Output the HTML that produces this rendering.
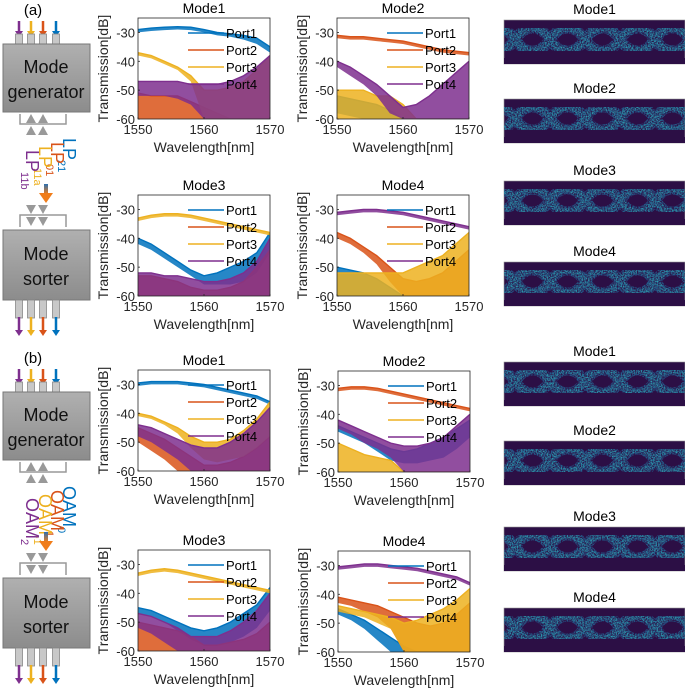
<!DOCTYPE html>
<html><head><meta charset="utf-8"><style>
html,body{margin:0;padding:0;background:#fff;}
svg{display:block;font-family:"Liberation Sans",sans-serif;}
</style></head><body>
<svg id="fig" width="685" height="694" viewBox="0 0 685 694" xmlns="http://www.w3.org/2000/svg">
<defs>
<linearGradient id="boxg" x1="0" y1="0" x2="0" y2="1"><stop offset="0" stop-color="#b0b0b0"/><stop offset="1" stop-color="#8c8c8c"/></linearGradient>
<linearGradient id="arrg" x1="0" y1="0" x2="0" y2="1"><stop offset="0" stop-color="#2a6fb0"/><stop offset="1" stop-color="#f07d1a"/></linearGradient>
<filter id="speck" x="0" y="0" width="1" height="1">
<feTurbulence type="fractalNoise" baseFrequency="0.8" numOctaves="1" seed="3" result="n"/>
<feColorMatrix in="n" type="matrix" values="0 0 0 0 0  0 0 0 0 0  0 0 0 0 0  0 0 0 3 -1.3" result="a"/>
<feComposite in="SourceGraphic" in2="a" operator="in"/>
</filter>
<filter id="speck2" x="0" y="0" width="1" height="1">
<feTurbulence type="fractalNoise" baseFrequency="0.7" numOctaves="1" seed="9" result="n"/>
<feColorMatrix in="n" type="matrix" values="0 0 0 0 0  0 0 0 0 0  0 0 0 0 0  0 0 0 3 -1.0" result="a"/>
<feComposite in="SourceGraphic" in2="a" operator="in"/>
</filter>
</defs>
<g id="left"></g>
<g id="charts"></g>
<g id="eyes"></g>
</svg>
<script>
const wavelengths = [1550,1552,1554,1556,1558,1560,1562,1564,1566,1568,1570];
const yTicks = [-30,-40,-50,-60];
const xTicks = [1550,1560,1570];
const portNames = ["Port1","Port2","Port3","Port4"];
const modeTitles = ["Mode1","Mode2","Mode3","Mode4"];
// (a) Mode1
const a1p1Hi=[-29,-28.5,-28.2,-28,-28.2,-29,-30,-30.5,-31,-32,-35];
const a1p1Lo=[-30,-29.5,-29.2,-29,-29.2,-30,-31,-31.5,-32.5,-34,-37];
const a1p2Hi=[-51,-52,-52,-52,-54,-56,-58,-60,-60,-60,-60];
const a1p2Lo=[-60,-60,-60,-60,-60,-60,-60,-60,-60,-60,-60];
const a1p3Hi=[-37,-38,-40,-42,-45,-50,-50,-49,-47,-43,-38];
const a1p3Lo=[-38,-39,-41,-43,-47,-60,-60,-60,-60,-60,-60];
const a1p4Hi=[-47,-47,-47,-47,-48,-48,-48,-47,-45,-42,-38];
const a1p4Lo=[-52,-52,-52,-53,-55,-60,-60,-60,-60,-60,-60];
// (a) Mode2
const a2p1Hi=[-52,-53,-54,-55,-57,-60,-60,-60,-60,-60,-60];
const a2p1Lo=[-58,-59,-60,-60,-60,-60,-60,-60,-60,-60,-60];
const a2p2Hi=[-31,-31.5,-31.5,-32,-32.5,-33,-34,-35,-36,-36.5,-37];
const a2p2Lo=[-32,-32.5,-32.5,-33,-33.5,-34,-35,-36,-37,-37.5,-38];
const a2p3Hi=[-50,-50,-50,-52,-52,-55,-60,-60,-60,-60,-60];
const a2p3Lo=[-60,-60,-60,-60,-60,-60,-60,-60,-60,-60,-60];
const a2p4Hi=[-40,-42,-45,-48,-52,-56,-55,-52,-48,-44,-40];
const a2p4Lo=[-42,-45,-48,-52,-58,-60,-60,-60,-60,-60,-60];
// (a) Mode3
const a3p1Hi=[-40,-42,-45,-48,-51,-53,-52,-50,-48,-45,-38];
const a3p1Lo=[-42,-44,-47,-50,-53,-56,-56,-56,-55,-52,-45];
const a3p2Hi=[-53,-53,-54,-55,-57,-58,-58,-57,-55,-50,-44];
const a3p2Lo=[-60,-60,-60,-60,-60,-60,-60,-60,-60,-60,-60];
const a3p3Hi=[-33,-32,-31.5,-31.5,-32,-33,-34,-35,-36,-37,-38];
const a3p3Lo=[-34,-33,-32.5,-32.5,-33,-34,-35,-36,-37,-38,-39];
const a3p4Hi=[-52,-52,-53,-53,-54,-55,-55,-54,-52,-48,-40];
const a3p4Lo=[-60,-60,-60,-60,-60,-60,-60,-60,-60,-60,-60];
// (a) Mode4
const a4p1Hi=[-50,-51,-52,-54,-57,-60,-60,-60,-60,-60,-60];
const a4p1Lo=[-60,-60,-60,-60,-60,-60,-60,-60,-60,-60,-60];
const a4p2Hi=[-38,-40,-43,-46,-50,-54,-55,-54,-52,-48,-44];
const a4p2Lo=[-40,-42,-45,-49,-55,-60,-60,-60,-60,-60,-60];
const a4p3Hi=[-52,-52,-52,-52,-52,-52,-50,-48,-46,-42,-38];
const a4p3Lo=[-60,-60,-60,-60,-60,-60,-60,-60,-60,-60,-60];
const a4p4Hi=[-31,-30.5,-30,-30,-30.5,-31,-32,-33,-34,-35,-36];
const a4p4Lo=[-32,-31.5,-31,-31,-31.5,-32,-33,-34,-35,-36,-37];
// (b) Mode1
const b1p1Hi=[-29.5,-29,-29,-29,-29.5,-30,-31,-32,-33,-34,-36];
const b1p1Lo=[-30.5,-30,-30,-30,-30.5,-31,-32,-33,-34,-35,-37];
const b1p2Hi=[-45,-47,-49,-52,-55,-58,-58,-57,-55,-52,-48];
const b1p2Lo=[-50,-53,-56,-60,-60,-60,-60,-60,-60,-60,-60];
const b1p3Hi=[-40,-41,-43,-45,-48,-50,-50,-49,-46,-42,-36];
const b1p3Lo=[-41,-42,-44,-47,-52,-56,-57,-56,-55,-52,-48];
const b1p4Hi=[-44,-45,-47,-49,-51,-52,-52,-50,-47,-43,-38];
const b1p4Lo=[-48,-50,-53,-56,-60,-60,-60,-60,-60,-60,-60];
// (b) Mode2
const b2p1Hi=[-44,-46,-48,-50,-52,-53,-52,-50,-48,-45,-42];
const b2p1Lo=[-46,-48,-50,-53,-56,-57,-57,-56,-55,-52,-48];
const b2p2Hi=[-31,-30.5,-30.5,-31,-32,-33,-34,-35,-36,-37,-38];
const b2p2Lo=[-32,-31.5,-31.5,-32,-33,-34,-35,-36,-37,-38,-39];
const b2p3Hi=[-50,-52,-54,-55,-56,-60,-60,-60,-60,-60,-60];
const b2p3Lo=[-60,-60,-60,-60,-60,-60,-60,-60,-60,-60,-60];
const b2p4Hi=[-42,-44,-46,-48,-50,-51,-51,-50,-48,-44,-40];
const b2p4Lo=[-45,-47,-50,-52,-55,-60,-60,-60,-60,-60,-60];
// (b) Mode3
const b3p1Hi=[-45,-46,-48,-50,-52,-53,-52,-50,-47,-44,-38];
const b3p1Lo=[-47,-48,-50,-53,-56,-58,-58,-57,-55,-52,-46];
const b3p2Hi=[-50,-51,-52,-53,-55,-58,-58,-57,-56,-54,-50];
const b3p2Lo=[-60,-60,-60,-60,-60,-60,-60,-60,-60,-60,-60];
const b3p3Hi=[-33,-32,-31.5,-32,-33,-34,-35,-36,-37,-38,-39];
const b3p3Lo=[-34,-33,-32.5,-33,-34,-35,-36,-37,-38,-39,-40];
const b3p4Hi=[-47,-48,-50,-52,-55,-55,-55,-53,-50,-46,-40];
const b3p4Lo=[-52,-54,-57,-60,-60,-60,-60,-60,-60,-60,-60];
// (b) Mode4
const b4p1Hi=[-45,-47,-49,-52,-55,-58,-60,-60,-60,-60,-60];
const b4p1Lo=[-47,-49,-52,-56,-60,-60,-60,-60,-60,-60,-60];
const b4p2Hi=[-41,-42,-43,-44,-46,-48,-50,-51,-50,-47,-43];
const b4p2Lo=[-43,-44,-46,-48,-52,-60,-60,-60,-60,-60,-60];
const b4p3Hi=[-44,-45,-46,-47,-48,-50,-49,-47,-45,-42,-38];
const b4p3Lo=[-46,-47,-48,-50,-52,-60,-60,-60,-60,-60,-60];
const b4p4Hi=[-30.5,-30,-29.5,-29.5,-30,-30.5,-31,-32,-33,-34,-36];
const b4p4Lo=[-31.5,-31,-30.5,-30.5,-31,-31.5,-32,-33,-34,-35,-37];

const portColors=["#0072BD","#D95319","#EDB120","#7E2F8E"];
const NS="http://www.w3.org/2000/svg";
function mk(tag,attrs,parent){const e=document.createElementNS(NS,tag);for(const k in attrs)e.setAttribute(k,attrs[k]);if(parent)parent.appendChild(e);return e;}

const chartDefs=[
 {id:"a1",x:138,y:18,t:0,d:[[a1p1Hi,a1p1Lo],[a1p2Hi,a1p2Lo],[a1p3Hi,a1p3Lo],[a1p4Hi,a1p4Lo]]},
 {id:"a2",x:337,y:18,t:1,d:[[a2p1Hi,a2p1Lo],[a2p2Hi,a2p2Lo],[a2p3Hi,a2p3Lo],[a2p4Hi,a2p4Lo]]},
 {id:"a3",x:138,y:195,t:2,d:[[a3p1Hi,a3p1Lo],[a3p2Hi,a3p2Lo],[a3p3Hi,a3p3Lo],[a3p4Hi,a3p4Lo]]},
 {id:"a4",x:337,y:195,t:3,d:[[a4p1Hi,a4p1Lo],[a4p2Hi,a4p2Lo],[a4p3Hi,a4p3Lo],[a4p4Hi,a4p4Lo]]},
 {id:"b1",x:138,y:370,t:0,d:[[b1p1Hi,b1p1Lo],[b1p2Hi,b1p2Lo],[b1p3Hi,b1p3Lo],[b1p4Hi,b1p4Lo]]},
 {id:"b2",x:338,y:371,t:1,d:[[b2p1Hi,b2p1Lo],[b2p2Hi,b2p2Lo],[b2p3Hi,b2p3Lo],[b2p4Hi,b2p4Lo]]},
 {id:"b3",x:138,y:550,t:2,d:[[b3p1Hi,b3p1Lo],[b3p2Hi,b3p2Lo],[b3p3Hi,b3p3Lo],[b3p4Hi,b3p4Lo]]},
 {id:"b4",x:338,y:551,t:3,d:[[b4p1Hi,b4p1Lo],[b4p2Hi,b4p2Lo],[b4p3Hi,b4p3Lo],[b4p4Hi,b4p4Lo]]}
];
const W=132,H=101;
const chartsG=document.getElementById("charts");
chartDefs.forEach(c=>{
 const g=mk("g",{},chartsG);
 
 
 const px=w=>c.x+(w-1550)/20*W;
 const py=v=>c.y+(-25-v)/35*H;
 const clip=mk("clipPath",{id:"clip"+c.id},g);
 mk("rect",{x:c.x,y:c.y,width:W,height:H},clip);
 mk("rect",{x:c.x,y:c.y,width:W,height:H,fill:"#fff"},g);
 const sg=mk("g",{"clip-path":"url(#clip"+c.id+")"},g);
 c.d.forEach((s,i)=>{
  const hi=s[0],lo=s[1];
  let pts=wavelengths.map((w,k)=>px(w)+","+py(hi[k]));
  let ptsLo=wavelengths.map((w,k)=>px(w)+","+py(lo[k])).reverse();
  const poly=mk("polygon",{points:pts.concat(ptsLo).join(" "),fill:portColors[i],"fill-opacity":"0.85"},sg);
  
  
  const line=mk("polyline",{points:pts.join(" "),fill:"none",stroke:portColors[i],"stroke-width":"1.4"},sg);
  
  
 });
 const frame=mk("rect",{x:c.x,y:c.y,width:W,height:H,fill:"none",stroke:"#262626","stroke-width":"0.8"},g);
 
 
 yTicks.forEach(v=>{
  mk("line",{x1:c.x,x2:c.x+2,y1:py(v),y2:py(v),stroke:"#262626","stroke-width":"0.8"},g);
  const t=mk("text",{x:c.x-3,y:py(v)+5,"text-anchor":"end","font-size":"13",fill:"#262626"},g);
  t.textContent=v;
  
  
 });
 xTicks.forEach(v=>{
  mk("line",{x1:px(v),x2:px(v),y1:c.y+H,y2:c.y+H-2,stroke:"#262626","stroke-width":"0.8"},g);
  const t=mk("text",{x:px(v),y:c.y+H+15,"text-anchor":"middle","font-size":"13",fill:"#262626"},g);
  t.textContent=v;
  
  
 });
 const xt=mk("text",{x:c.x+W/2,y:c.y+H+33,"text-anchor":"middle","font-size":"14",fill:"#262626"},g);
 xt.textContent="Wavelength[nm]";
 
 
 const yt=mk("text",{transform:"translate("+(c.x-30)+","+(c.y+H/2)+") rotate(-90)","text-anchor":"middle","font-size":"14",fill:"#262626"},g);
 yt.textContent="Transmission[dB]";
 
 
 const tt=mk("text",{x:c.x+W/2,y:c.y-5,"text-anchor":"middle","font-size":"14",fill:"#000"},g);
 tt.textContent=modeTitles[c.t];
 
 
 portNames.forEach((n,i)=>{
  const ly=c.y+15+17*i;
  const ll=mk("line",{x1:c.x+50,x2:c.x+86,y1:ly,y2:ly,stroke:portColors[i],"stroke-width":"1.4"},g);
  
  
  const lt=mk("text",{x:c.x+88,y:ly+5,"font-size":"13",fill:"#000"},g);
  lt.textContent=n;
  
  
 });
});

// eye diagrams
const eyeG=document.getElementById("eyes");
const eyeBoxes=[[20,0],[99,1],[181,2],[262,3],[362,0],[441,1],[527,2],[608,3]];
eyeBoxes.forEach(b=>{
 const y0=b[0],x0=504,w=181,h=44;
 const g=mk("g",{},eyeG);
 
 
 const t=mk("text",{x:x0+w/2,y:y0-6,"text-anchor":"middle","font-size":"14",fill:"#000"},g);
 t.textContent=modeTitles[b[1]];
 
 
 mk("rect",{x:x0,y:y0,width:w,height:h,fill:"#2c0f45",stroke:"#999","stroke-width":"0.6"},g);
 const T=y0+8,B=y0+31,p=35,hh=p/2;
 let d="";
 for(let c=515-p;c<x0+w+p;c+=p){
  d+="M"+(c-hh)+","+T+" C"+c+","+T+" "+c+","+B+" "+(c+hh)+","+B+" ";
  d+="M"+(c-hh)+","+B+" C"+c+","+B+" "+c+","+T+" "+(c+hh)+","+T+" ";
 }
 const cp=mk("clipPath",{id:"eclip"+y0},g);
 mk("rect",{x:x0,y:y0,width:w,height:h},cp);
 const cg=mk("g",{"clip-path":"url(#eclip"+y0+")"},g);
 mk("path",{d:d,fill:"none",stroke:"#24608f","stroke-width":"11",filter:"url(#speck2)"},cg);
 mk("path",{d:d,fill:"none",stroke:"#2fa3b0","stroke-width":"7",filter:"url(#speck)"},cg);
 mk("rect",{x:x0,y:y0+38,width:w,height:6,fill:"#2c0f45"},cg);
});

// left schematic
const L=document.getElementById("left");
const arrowColors=["#7E2F8E","#EDB120","#D95319","#0072BD"];
const portX=[19,31,43,56];
function box(y,h,l1,l2,name){
 const g=mk("g",{},L);
 
 
 mk("rect",{x:3,y:y,width:87,height:h,fill:"url(#boxg)",stroke:"#777","stroke-width":"1"},g);
 const a=mk("text",{x:46,y:y+h/2-5,"text-anchor":"middle","font-size":"18",fill:"#111"},g);a.textContent=l1;
 const b2=mk("text",{x:46,y:y+h/2+20,"text-anchor":"middle","font-size":"18",fill:"#111"},g);b2.textContent=l2;
}
function ports(y1,y2){portX.forEach(x=>mk("rect",{x:x-3.5,y:y1,width:7,height:y2-y1,fill:"#c8c8c8",stroke:"#888","stroke-width":"0.8"},L));}
function arrows(y1,y2){portX.forEach((x,i)=>{mk("line",{x1:x,x2:x,y1:y1,y2:y2-5,stroke:arrowColors[i],"stroke-width":"2.5"},L);mk("polygon",{points:(x-4)+","+(y2-6)+" "+(x+4)+","+(y2-6)+" "+x+","+y2,fill:arrowColors[i]},L);});}
function tris(y,up){
 if(up) mk("path",{d:"M20,"+y+" V"+(y+10)+" H66 V"+y,fill:"none",stroke:"#999","stroke-width":"1.5"},L);
 else mk("path",{d:"M20,"+(y+22)+" V"+(y+10)+" H66 V"+(y+22),fill:"none",stroke:"#999","stroke-width":"1.5"},L);
 [31,43].forEach(x=>{[0,12].forEach(o=>{const yy=y+o;const pts=up?(x-5)+","+(yy+9)+" "+(x+5)+","+(yy+9)+" "+x+","+yy:(x-5)+","+yy+" "+(x+5)+","+yy+" "+x+","+(yy+9);mk("polygon",{points:pts,fill:"#999"},L);});});
}
function panel(off,lab,labels){
 const t=mk("text",{x:33,y:off+15,"text-anchor":"middle","font-size":"15",fill:"#000"},L);t.textContent=lab;
 
 
 arrows(off+21,off+37);ports(off+34,off+44);
 box(off+44,68,"Mode","generator","mode-generator-box");
 tris(off+114,true);
 labels.forEach((l,i)=>{
  const tx=mk("text",{transform:"translate("+l[1]+","+(off+l[4])+") rotate(90)","font-size":"18",fill:l[2]},L);
  tx.textContent=l[0];
  const s=mk("tspan",{"font-size":"11",dy:"5"},tx);s.textContent=l[3];
  
  
 });
 mk("rect",{x:44,y:off+184,width:4,height:10,fill:"url(#arrg)"},L);
 mk("polygon",{points:"39,"+(off+193)+" 53,"+(off+193)+" 46,"+(off+203),fill:"#f07d1a"},L);
 tris(off+205,false);
 box(off+230,70,"Mode","sorter","mode-sorter-box");
 ports(off+300,off+318);arrows(off+317,off+336);
}
panel(0,"(a)",[["LP",63,"#0072BD","21",138],["LP",51,"#D95319","01",142],["LP",39,"#EDB120","11a",146],["LP",26,"#7E2F8E","11b",150]]);
panel(348,"(b)",[["OAM",63,"#0072BD","0",138],["OAM",51,"#D95319","1",142],["OAM",39,"#EDB120","-1",146],["OAM",26,"#7E2F8E","2",150]]);
</script>
</body></html>
